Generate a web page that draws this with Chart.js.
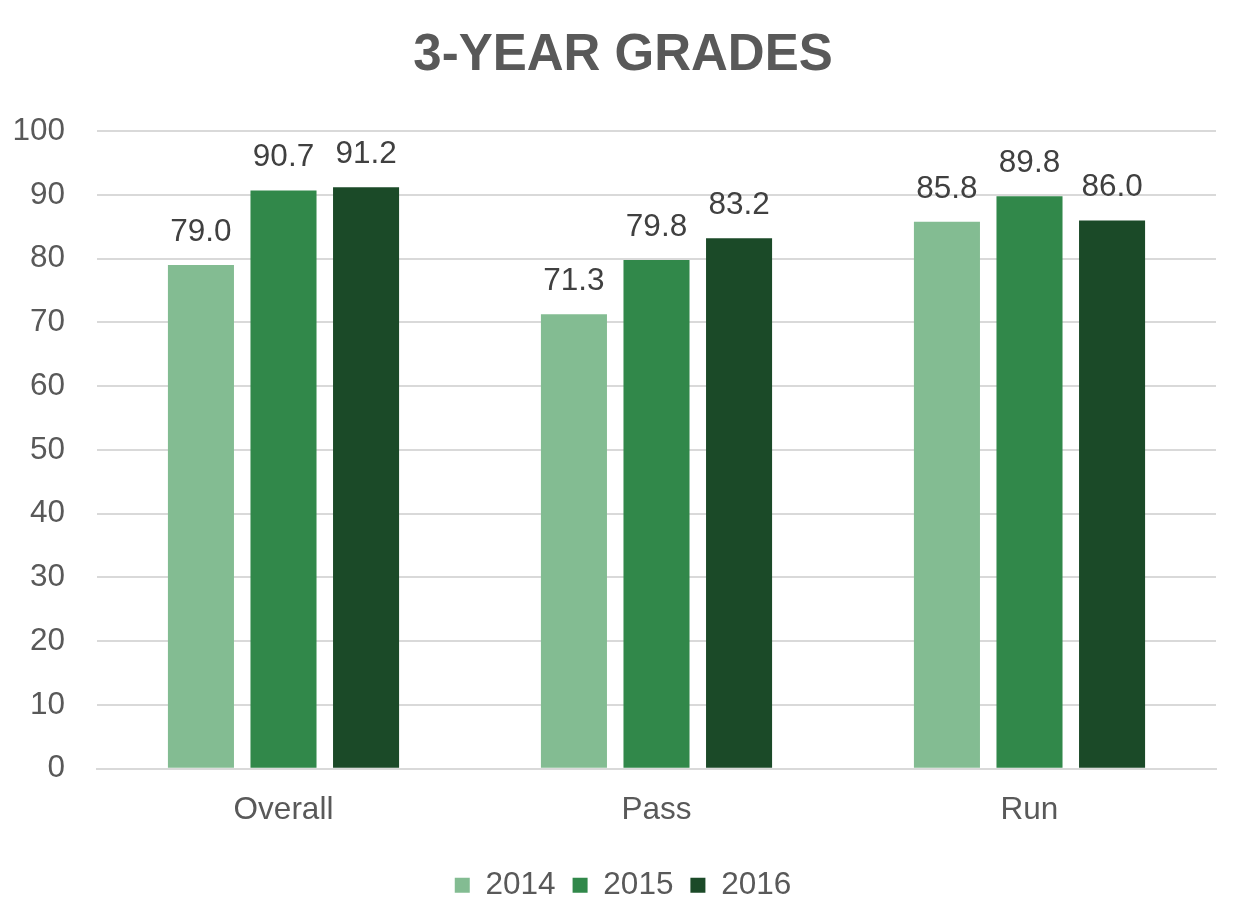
<!DOCTYPE html>
<html>
<head>
<meta charset="utf-8">
<title>3-Year Grades</title>
<script src="https://cdn.jsdelivr.net/npm/chart.js@4/dist/chart.umd.min.js"></script>
<style>
    html, body { margin: 0; padding: 0; background: #ffffff; }
    canvas { display: block; }
</style>
</head>
<body>
<canvas id="gradesChart" width="1236" height="920"></canvas>
<script>
/* ==========================================================================
   DATA
   ========================================================================== */
const categories = ["Overall", "Pass", "Run"];
const seriesNames = ["2014", "2015", "2016"];
const grades2014 = [79.0, 71.3, 85.8];
const grades2015 = [90.7, 79.8, 89.8];
const grades2016 = [91.2, 83.2, 86.0];
const yTicks = [0, 10, 20, 30, 40, 50, 60, 70, 80, 90, 100];

const seriesColors = ["#83bc92", "#31884a", "#1b4a28"];
const FONT = "'Liberation Sans', Arial, Helvetica, sans-serif";
const TEXT_SIZE = 31.5;

/* ==========================================================================
   VALUE LABELS ABOVE BARS
   ========================================================================== */
const valueLabelPlugin = {
    id: "valueLabels",
    afterDatasetsDraw(chart) {
        const ctx = chart.ctx;
        ctx.save();
        ctx.font = TEXT_SIZE + "px " + FONT;
        ctx.fillStyle = "#404040";
        ctx.textAlign = "center";
        ctx.textBaseline = "alphabetic";
        chart.data.datasets.forEach((ds, i) => {
            const meta = chart.getDatasetMeta(i);
            meta.data.forEach((bar, j) => {
                ctx.fillText(ds.data[j].toFixed(1), bar.x, bar.y - 24);
            });
        });
        ctx.restore();
    }
};

/* ==========================================================================
   CHART
   ========================================================================== */
const ctx = document.getElementById("gradesChart").getContext("2d");
const gradesChart = new Chart(ctx, {
    type: "bar",
    data: {
        labels: categories,
        datasets: [grades2014, grades2015, grades2016].map((values, i) => ({
            label: seriesNames[i],
            data: values,
            backgroundColor: seriesColors[i],
            borderWidth: 0,
            categoryPercentage: 0.664,
            barPercentage: 0.8
        }))
    },
    options: {
        responsive: false,
        animation: false,
        layout: { padding: { left: 10, right: 0, top: 0, bottom: 9 } },
        plugins: {
            title: {
                display: true,
                text: "3-YEAR GRADES",
                color: "#595959",
                font: { family: FONT, size: 51, weight: "bold" },
                padding: { top: 25, bottom: 45 }
            },
            legend: {
                position: "bottom",
                labels: {
                    color: "#595959",
                    font: { family: FONT, size: TEXT_SIZE },
                    boxWidth: 15,
                    boxHeight: 15,
                    padding: 17
                }
            },
            tooltip: { enabled: false }
        },
        scales: {
            x: {
                grid: { display: false, drawTicks: false },
                border: { display: true, color: "#d9d9d9", width: 2 },
                ticks: {
                    color: "#595959",
                    font: { family: FONT, size: TEXT_SIZE },
                    padding: 23
                }
            },
            y: {
                min: 0,
                max: 100,
                afterBuildTicks(scale) {
                    scale.ticks = yTicks.map(v => ({ value: v }));
                },
                afterFit(scale) {
                    scale.width = 87;
                },
                grid: { color: "#d9d9d9", lineWidth: 2, drawTicks: false },
                border: { display: false },
                ticks: {
                    color: "#595959",
                    font: { family: FONT, size: TEXT_SIZE },
                    padding: 32
                }
            },
            // empty right-hand margin so the plot ends where the reference does
            yRight: {
                position: "right",
                min: 0,
                max: 100,
                grid: { display: false, drawTicks: false },
                border: { display: false },
                ticks: { display: false },
                afterFit(scale) {
                    scale.width = 20;
                }
            }
        }
    },
    plugins: [valueLabelPlugin]
});
</script>
</body>
</html>
